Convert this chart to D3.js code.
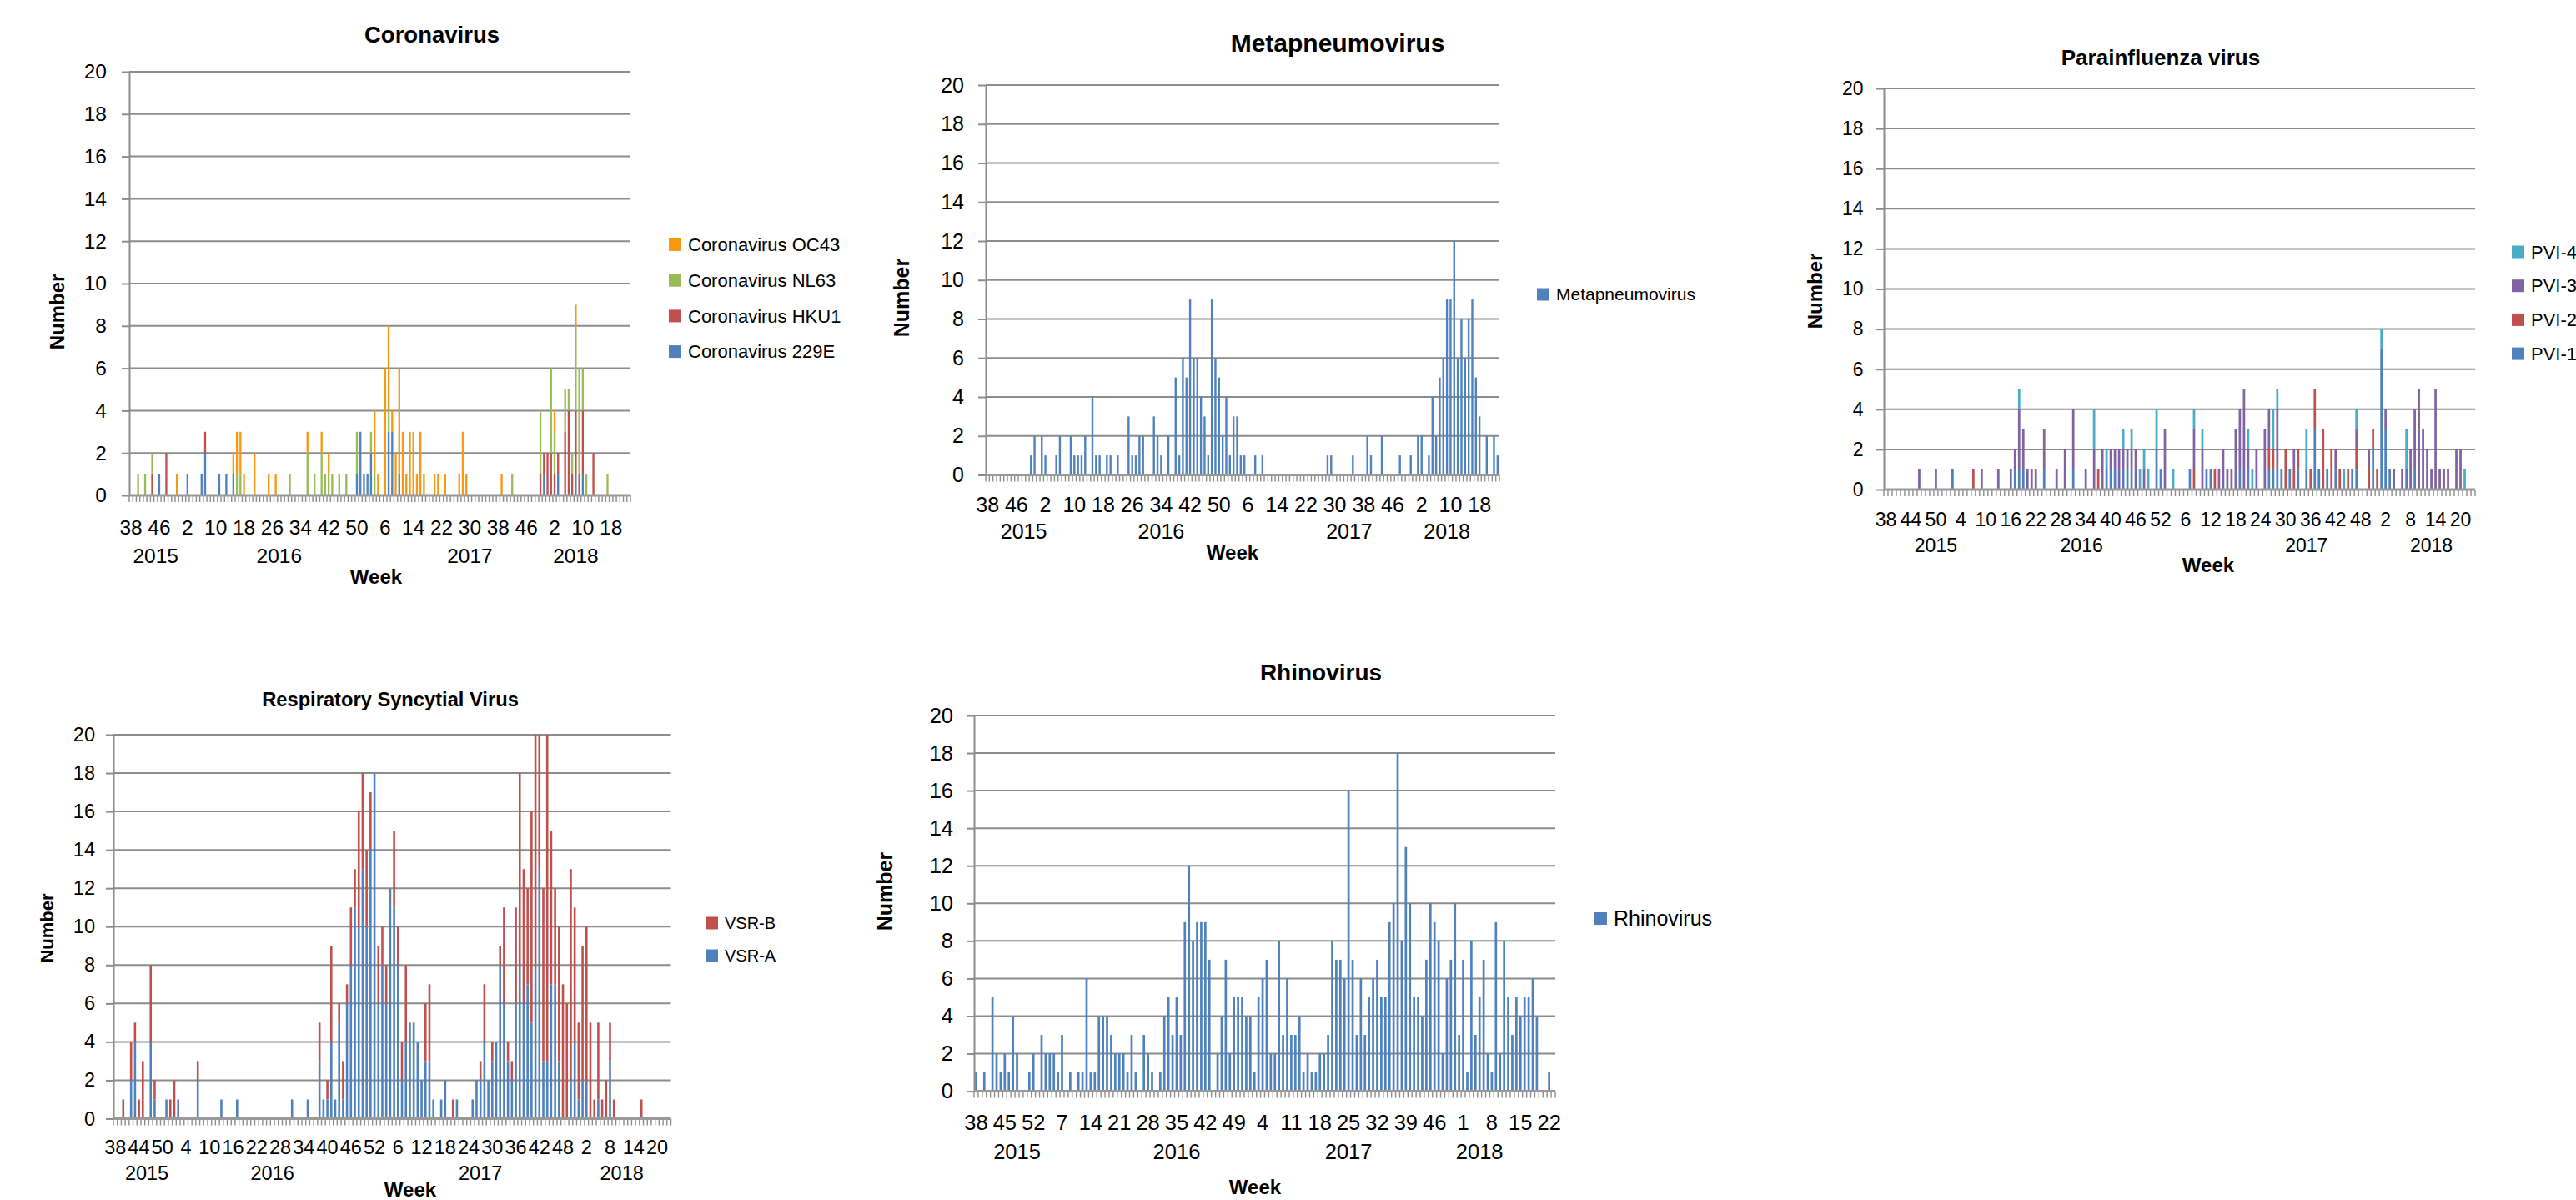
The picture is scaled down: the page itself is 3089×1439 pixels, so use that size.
<!DOCTYPE html>
<html>
<head>
<meta charset="utf-8">
<title>Respiratory viruses by week</title>
<script src="https://cdn.jsdelivr.net/npm/d3@7"></script>
<style>
  html, body { margin: 0; padding: 0; background: #ffffff; }
  svg { display: block; }
</style>
</head>
<body>
<svg id="chart" width="3089" height="1439"></svg>
<script>
// Weekly detections of respiratory viruses, week 38/2015 to week 23/2018

// ---- categories: [year, first week, last week]
var yearSpans = [[2015, 38, 52], [2016, 1, 52], [2017, 1, 52], [2018, 1, 23]];
var weeks = [];
yearSpans.forEach(function(s) {
    for (var w = s[1]; w <= s[2]; w++) weeks.push(s[0] + '-' + w);
});
var yTicks = [0, 2, 4, 6, 8, 10, 12, 14, 16, 18, 20];

// ---- Coronavirus (stacked)
var corona229E = [
    0,0,0,0,0,0,0,0,1,0,0,0,0,0,0,
    0,1,0,0,0,1,2,0,0,0, 1,0,1,0,1,0,0,0,0,0, 0,0,0,0,0,0,0,0,0,0, 0,0,0,0,0,0,0,0,0,0, 0,0,0,0,0,0,0,0,0,1, 3,1,
    1,2,0,0,0,0,3,3,0,1, 0,0,0,0,0,0,0,0,0,0, 0,0,0,0,0,0,0,0,0,0, 0,0,0,0,0,0,0,0,0,0, 0,0,0,0,0,0,0,0,0,0, 1,0,
    0,0,1,0,0,0,0,1,0,1, 0,0,0,0,0,0,0,0,0,0, 0,0,0
];
var coronaHKU1 = [
    0,0,0,0,0,0,1,0,0,0,2,0,0,0,0,
    0,0,0,0,0,0,1,0,0,0, 0,0,0,0,0,0,0,0,0,0, 0,0,0,0,0,0,0,0,0,0, 0,0,0,0,0,0,0,0,0,0, 0,0,0,0,0,0,0,0,0,0, 0,0,
    0,0,0,0,0,0,0,0,0,0, 0,0,0,0,0,0,0,0,0,0, 0,0,0,0,0,0,0,0,0,0, 0,0,0,0,0,0,0,0,0,0, 0,0,0,0,0,0,0,0,0,1, 1,2,
    2,1,1,0,3,4,1,3,1,3, 0,0,2,0,0,0,0,0,0,0, 0,0,0
];
var coronaNL63 = [
    0,0,1,0,1,0,1,0,0,0,0,0,0,0,0,
    0,0,0,0,0,0,0,0,0,0, 0,0,0,0,0,1,1,0,0,0, 0,0,0,0,0,0,0,0,0,0, 1,0,0,0,0,2,0,1,0,2, 1,1,1,0,1,0,1,0,0,2, 0,0,
    0,1,1,0,0,0,1,0,0,0, 0,0,0,0,0,0,0,0,0,0, 0,0,0,0,0,0,0,0,0,0, 0,0,0,0,0,0,0,0,0,0, 0,1,0,0,0,0,0,0,0,3, 0,0,
    4,2,0,0,2,1,1,4,5,2, 1,0,0,0,0,0,1,0,0,0, 0,0,0
];
var coronaOC43 = [
    0,0,0,0,0,0,0,0,0,0,0,0,0,1,0,
    0,0,0,0,0,0,0,0,0,0, 0,0,0,0,1,2,2,1,0,0, 2,0,0,0,1,0,1,0,0,0, 0,0,0,0,0,1,0,0,0,1, 0,1,0,0,0,0,0,0,0,0, 0,0,
    0,0,3,1,0,6,4,1,2,5, 3,1,3,3,1,3,1,0,0,1, 1,0,1,0,0,0,1,3,1,0, 0,0,0,0,0,0,0,0,1,0, 0,0,0,0,0,0,0,0,0,0, 0,0,
    0,1,0,0,0,0,0,1,0,0, 0,0,0,0,0,0,0,0,0,0, 0,0,0
];

// ---- Metapneumovirus
var metapneumo = [
    0,0,0,0,0,0,0,0,0,0,0,0,1,2,0,
    2,1,0,0,1,2,0,0,2,1, 1,1,2,0,4,1,1,0,1,1, 0,1,0,0,3,1,1,2,2,0, 0,3,2,1,0,2,0,5,1,6, 5,9,6,6,4,3,1,9,6,5, 2,4,
    1,3,3,1,1,0,0,1,0,1, 0,0,0,0,0,0,0,0,0,0, 0,0,0,0,0,0,0,1,1,0, 0,0,0,0,1,0,0,0,2,1, 0,0,2,0,0,0,0,1,0,0, 1,0,
    2,2,0,1,4,2,5,6,9,9, 12,6,8,6,8,9,5,3,0,2, 0,2,1
];

// ---- Parainfluenza (stacked)
var pvi1 = [
    0,0,0,0,0,0,0,0,0,0,0,0,0,0,0,
    0,1,0,0,0,0,0,0,0,0, 0,0,0,0,0,0,1,1,1,0, 0,0,0,1,0,0,0,0,0,0, 1,0,0,0,0,0,0,0,1,1, 1,0,1,1,1,0,0,0,0,0, 2,1,
    0,0,0,0,0,0,1,0,0,0, 1,1,0,0,0,0,0,0,1,0, 1,0,0,0,0,1,1,1,1,0, 1,0,1,0,1,0,3,1,0,1, 0,1,0,0,0,1,1,0,0,0, 2,0,
    7,3,1,0,0,0,1,0,1,0, 0,0,0,0,0,0,0,0,0,0, 0,0,0
];
var pvi2 = [
    0,0,0,0,0,0,0,0,0,0,0,0,0,0,0,
    0,0,0,0,0,0,1,0,0,0, 0,0,0,0,0,0,0,0,0,0, 0,0,0,0,0,0,0,0,0,0, 0,0,0,0,0,0,1,0,0,0, 0,0,0,0,0,0,0,0,0,0, 0,0,
    0,0,0,0,0,0,0,1,0,0, 0,0,1,0,0,0,0,0,0,0, 0,0,0,0,0,1,1,0,0,2, 0,1,1,0,0,1,2,0,3,0, 2,0,1,0,1,0,1,0,0,1, 1,1,
    0,0,0,0,0,0,0,0,0,0, 0,0,0,0,0,0,0,0,0,0, 0,0,0
];
var pvi3 = [
    0,0,0,0,0,0,0,0,1,0,0,0,1,0,0,
    0,0,0,0,0,0,0,0,1,0, 0,0,1,0,0,1,1,3,2,1, 1,1,0,2,0,0,1,0,2,0, 3,0,0,1,0,2,0,2,0,1, 1,2,1,1,1,2,0,1,0,0, 0,0,
    3,0,0,0,0,0,0,2,0,2, 0,0,0,1,2,1,1,3,3,5, 1,0,2,0,3,2,0,3,0,0, 0,1,0,0,0,0,0,0,0,0, 0,1,0,0,0,0,1,0,0,1, 0,0,
    0,1,0,1,0,1,0,2,3,5, 3,2,1,5,1,1,1,0,2,2, 0,0,0
];
var pvi4 = [
    0,0,0,0,0,0,0,0,0,0,0,0,0,0,0,
    0,0,0,0,0,0,0,0,0,0, 0,0,0,0,0,0,0,1,0,0, 0,0,0,0,0,0,0,0,0,0, 0,0,0,0,0,2,0,0,1,0, 0,0,1,0,1,0,1,1,1,0, 2,0,
    0,0,1,0,0,0,0,1,0,1, 0,0,0,0,0,0,0,0,0,0, 1,1,0,0,0,0,2,1,0,0, 0,0,0,0,2,0,0,0,0,0, 0,0,0,1,0,0,1,0,0,0, 0,0,
    1,0,0,0,0,0,2,0,0,0, 0,0,0,0,0,0,0,0,0,0, 1,0,0
];

// ---- Respiratory syncytial virus (stacked)
var vsrA = [
    0,0,0,0,2,4,0,0,0,4,1,0,0,1,0,
    0,1,0,0,0,0,2,0,0,0, 0,0,1,0,0,0,1,0,0,0, 0,0,0,0,0,0,0,0,0,0, 1,0,0,0,1,0,0,3,1,1, 4,1,5,1,6,8,11,10,13,10, 14,18,
    6,8,6,12,11,8,2,4,5,5, 4,2,3,3,1,0,1,2,0,0, 1,0,0,0,1,2,2,4,2,3, 4,8,6,3,2,6,8,6,7,5, 8,13,3,3,7,7,3,0,0,2, 4,1,
    2,2,0,0,1,0,0,3,0,0, 0,0,0,0,0,0,0,0,0,0, 0,0,0
];
var vsrB = [
    0,0,1,0,2,1,1,3,0,4,1,0,0,0,1,
    2,0,0,0,0,0,1,0,0,0, 0,0,0,0,0,0,0,0,0,0, 0,0,0,0,0,0,0,0,0,0, 0,0,0,0,0,0,0,2,0,1, 5,0,1,2,1,3,2,6,5,4, 3,0,
    3,2,2,0,4,2,2,4,0,0, 0,0,3,4,0,0,0,0,0,1, 0,0,0,0,0,0,1,3,0,1, 0,1,5,1,1,5,10,7,5,11, 12,7,9,17,8,5,7,7,6,11, 7,4,
    7,8,5,1,4,1,2,2,1,0, 0,0,0,0,0,1,0,0,0,0, 0,0,0
];

// ---- Rhinovirus
var rhino = [
    1,0,1,0,5,2,1,2,1,4,2,0,0,1,2,
    0,3,2,2,2,1,3,0,1,0, 1,1,6,1,1,4,4,4,3,2, 2,2,1,3,1,0,3,2,1,0, 1,4,5,3,5,3,9,12,8,9, 9,9,7,0,2,4,7,2,5,5, 5,4,
    4,1,5,6,7,2,2,8,3,6, 3,3,4,1,2,1,1,2,2,3, 8,7,7,6,16,7,3,6,3,5, 6,7,5,5,9,10,18,8,13,10, 5,5,4,7,10,9,8,2,6,7, 10,3,
    7,1,8,3,5,7,2,1,9,2, 8,5,3,5,4,5,5,6,4,0, 0,1,0
];

// year labels sit under these weeks
var coronaYears = ['2015-45', '2016-28', '2017-30', '2018-8'];
var metaYears = ['2015-48', '2016-34', '2017-34', '2018-9'];
var pviYears = ['2015-50', '2016-33', '2017-35', '2018-13'];
var vsrYears = ['2015-46', '2016-26', '2017-27', '2018-11'];
var rhinoYears = ['2015-48', '2016-35', '2017-25', '2018-5'];

// ---- colours (Office 2007 palette)
var BLUE = '#4F81BD', RED = '#C0504D', GREEN = '#9BBB59',
    PURPLE = '#8064A2', TEAL = '#4BACC6', ORANGE = '#F79A12';
var GRID = '#8c8c8c';
var FONT = '"Liberation Sans", Arial, "DejaVu Sans", sans-serif';

var svg = d3.select('#chart');

var panels = [
    {
        title: 'Coronavirus', titleX: 518, titleY: 41, titleSize: 27.5,
        x0: 155, x1: 756, yTop: 86, yZero: 594,
        every: 8, fs: 24.5, yPad: 18, weekDy: 38, yearDy: 72, weekTitleDy: 98, weekTitleX: 451,
        numberX: 69, numberY: 374, numberSize: 24,
        legendX: 802, legendY: 293.5, legendStep: 42.7, legendSize: 22,
        yearKeys: coronaYears,
        series: [
            { name: 'Coronavirus 229E', values: corona229E, color: BLUE },
            { name: 'Coronavirus HKU1', values: coronaHKU1, color: RED },
            { name: 'Coronavirus NL63', values: coronaNL63, color: GREEN },
            { name: 'Coronavirus OC43', values: coronaOC43, color: ORANGE }
        ]
    },
    {
        title: 'Metapneumovirus', titleX: 1604, titleY: 51, titleSize: 30,
        x0: 1182, x1: 1798, yTop: 102, yZero: 569.5,
        every: 8, fs: 25, yPad: 17, weekDy: 36, yearDy: 68, weekTitleDy: 93, weekTitleX: 1478,
        numberX: 1081, numberY: 357, numberSize: 25,
        legendX: 1843, legendY: 353, legendStep: 40, legendSize: 21,
        yearKeys: metaYears,
        series: [
            { name: 'Metapneumovirus', values: metapneumo, color: BLUE }
        ]
    },
    {
        title: 'Parainfluenza virus', titleX: 2591, titleY: 69, titleSize: 26,
        x0: 2259, x1: 2968, yTop: 106, yZero: 587,
        every: 6, fs: 23, yPad: 15.5, weekDy: 36, yearDy: 67, weekTitleDy: 91, weekTitleX: 2648,
        numberX: 2177, numberY: 349, numberSize: 24,
        legendX: 3012, legendY: 302, legendStep: 40.7, legendSize: 22,
        yearKeys: pviYears,
        series: [
            { name: 'PVI-1', values: pvi1, color: BLUE },
            { name: 'PVI-2', values: pvi2, color: RED },
            { name: 'PVI-3', values: pvi3, color: PURPLE },
            { name: 'PVI-4', values: pvi4, color: TEAL }
        ]
    },
    {
        title: 'Respiratory Syncytial Virus', titleX: 468, titleY: 839, titleSize: 23.7,
        x0: 136, x1: 804.5, yTop: 881, yZero: 1341.5,
        every: 6, fs: 23.5, yPad: 13, weekDy: 34, yearDy: 65, weekTitleDy: 85, weekTitleX: 492,
        numberX: 56, numberY: 1113, numberSize: 22,
        legendX: 846, legendY: 1107, legendStep: 39, legendSize: 20,
        yearKeys: vsrYears,
        series: [
            { name: 'VSR-A', values: vsrA, color: BLUE },
            { name: 'VSR-B', values: vsrB, color: RED }
        ]
    },
    {
        title: 'Rhinovirus', titleX: 1584, titleY: 806, titleSize: 28,
        x0: 1168, x1: 1865, yTop: 858, yZero: 1308.6,
        every: 7, fs: 25.5, yPad: 16, weekDy: 37, yearDy: 72, weekTitleDy: 115, weekTitleX: 1505,
        numberX: 1061, numberY: 1069, numberSize: 25,
        legendX: 1912, legendY: 1101.5, legendStep: 40, legendSize: 25,
        yearKeys: rhinoYears,
        series: [
            { name: 'Rhinovirus', values: rhino, color: BLUE }
        ]
    }
];

function drawPanel(p) {
    var g = svg.append('g').attr('font-family', FONT);

    var x = d3.scaleBand().domain(weeks).range([p.x0, p.x1]).paddingInner(0).paddingOuter(0);
    var y = d3.scaleLinear().domain([0, 20]).range([p.yZero, p.yTop]);

    // horizontal gridlines
    g.append('g').selectAll('line')
        .data(yTicks.slice(1))
        .enter().append('line')
        .attr('x1', p.x0).attr('x2', p.x1)
        .attr('y1', function(d) { return y(d); })
        .attr('y2', function(d) { return y(d); })
        .attr('stroke', GRID).attr('stroke-width', 2);

    // stacked bars
    var keys = p.series.map(function(s) { return s.name; });
    var table = weeks.map(function(w, i) {
        var row = { week: w };
        p.series.forEach(function(s) { row[s.name] = s.values[i]; });
        return row;
    });
    var layers = d3.stack().keys(keys)(table);
    var bw = x.bandwidth() * 0.55;

    g.append('g').selectAll('g')
        .data(layers)
        .enter().append('g')
        .attr('fill', function(d, i) { return p.series[i].color; })
        .selectAll('rect')
        .data(function(d) { return d.filter(function(v) { return v[1] > v[0]; }); })
        .enter().append('rect')
        .attr('x', function(d) { return x(d.data.week) + (x.bandwidth() - bw) / 2; })
        .attr('y', function(d) { return y(d[1]); })
        .attr('width', bw)
        .attr('height', function(d) { return y(d[0]) - y(d[1]); });

    // y axis
    var yAxis = g.append('g')
        .attr('transform', 'translate(' + p.x0 + ',0)')
        .call(d3.axisLeft(y).tickValues(yTicks).tickSize(9).tickSizeOuter(0).tickPadding(p.yPad));
    yAxis.attr('font-family', FONT).attr('font-size', p.fs);
    yAxis.select('.domain').attr('stroke', GRID).attr('stroke-width', 2);
    yAxis.selectAll('.tick line').attr('stroke', GRID).attr('stroke-width', 2);
    yAxis.selectAll('.tick text').attr('fill', '#000');

    // x axis: week numbers every n-th category
    var xAxis = g.append('g')
        .attr('transform', 'translate(0,' + p.yZero + ')')
        .call(d3.axisBottom(x)
            .tickValues(weeks.filter(function(d, i) { return i % p.every === 0; }))
            .tickFormat(function(d) { return d.split('-')[1]; })
            .tickSize(0).tickSizeOuter(0));
    xAxis.attr('font-family', FONT).attr('font-size', p.fs);
    xAxis.select('.domain').remove();
    xAxis.selectAll('.tick text')
        .attr('y', p.weekDy).attr('dy', '0.35em').attr('fill', '#000');

    // axis baseline and category ticks
    var edges = weeks.map(function(w) { return x(w); }).concat([x.range()[1]]);
    g.append('g').selectAll('line')
        .data(edges)
        .enter().append('line')
        .attr('x1', function(d) { return d; }).attr('x2', function(d) { return d; })
        .attr('y1', p.yZero).attr('y2', p.yZero + 8)
        .attr('stroke', GRID).attr('stroke-width', 1.4);
    g.append('line')
        .attr('x1', p.x0).attr('x2', p.x1)
        .attr('y1', p.yZero).attr('y2', p.yZero)
        .attr('stroke', '#999999').attr('stroke-width', 3);

    // years
    g.append('g').selectAll('text')
        .data(p.yearKeys)
        .enter().append('text')
        .attr('x', function(d) { return x(d) + x.bandwidth() / 2; })
        .attr('y', p.yZero + p.yearDy)
        .attr('dy', '0.35em')
        .attr('text-anchor', 'middle')
        .attr('font-size', p.fs)
        .text(function(d) { return d.split('-')[0]; });

    // titles
    g.append('text')
        .attr('x', p.titleX).attr('y', p.titleY).attr('dy', '0.35em')
        .attr('text-anchor', 'middle')
        .attr('font-size', p.titleSize).attr('font-weight', 'bold')
        .text(p.title);

    g.append('text')
        .attr('x', p.weekTitleX).attr('y', p.yZero + p.weekTitleDy).attr('dy', '0.35em')
        .attr('text-anchor', 'middle')
        .attr('font-size', 24).attr('font-weight', 'bold')
        .text('Week');

    g.append('text')
        .attr('transform', 'translate(' + p.numberX + ',' + p.numberY + ') rotate(-90)')
        .attr('dy', '0.35em')
        .attr('text-anchor', 'middle')
        .attr('font-size', p.numberSize).attr('font-weight', 'bold')
        .text('Number');

    // legend (top series first, like Excel)
    var items = p.series.slice().reverse();
    var lg = g.append('g').selectAll('g')
        .data(items)
        .enter().append('g')
        .attr('transform', function(d, i) {
            return 'translate(' + p.legendX + ',' + (p.legendY + i * p.legendStep) + ')';
        });
    lg.append('rect')
        .attr('x', 0).attr('y', -7.5).attr('width', 15).attr('height', 15)
        .attr('fill', function(d) { return d.color; });
    lg.append('text')
        .attr('x', 23).attr('dy', '0.35em')
        .attr('font-size', p.legendSize)
        .text(function(d) { return d.name; });
}

panels.forEach(drawPanel);
</script>
</body>
</html>
